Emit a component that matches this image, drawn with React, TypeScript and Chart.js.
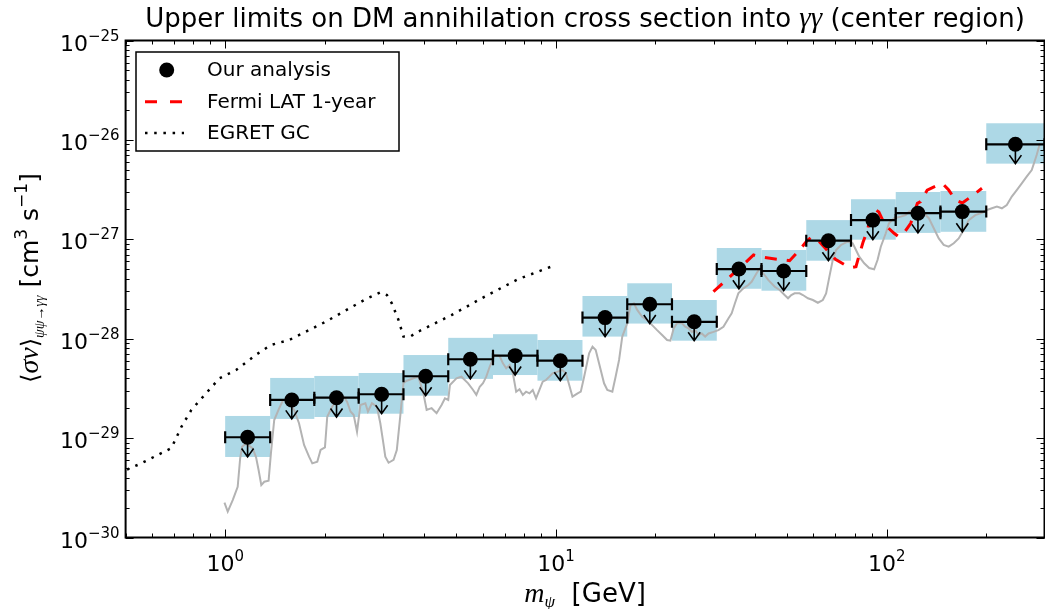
import React, { useEffect, useRef } from "react";
import { Chart, registerables } from "chart.js";

Chart.register(...registerables);

// ---------------- data ----------------
const binCenter = [1.169, 1.59, 2.171, 2.972, 4.038, 5.512, 7.528, 10.31, 14.08, 19.22, 26.18, 35.74, 48.82, 66.65, 90.82, 124.3, 169.3, 245.0];
const binLow = [1.0, 1.368, 1.86, 2.533, 3.46, 4.725, 6.452, 8.794, 12.03, 16.43, 22.43, 30.64, 41.83, 57.13, 78.01, 106.5, 145.4, 200];
const binHigh = [1.368, 1.86, 2.533, 3.46, 4.725, 6.452, 8.794, 12.03, 16.43, 22.43, 30.64, 41.83, 57.13, 78.01, 106.5, 145.4, 200, 300];
const limitValue = [1.02e-29, 2.42e-29, 2.55e-29, 2.76e-29, 4.19e-29, 6.21e-29, 6.75e-29, 6.01e-29, 1.63e-28, 2.22e-28, 1.48e-28, 5.02e-28, 4.8e-28, 9.68e-28, 1.56e-27, 1.83e-27, 1.9e-27, 9.03e-27];
const bandHigh = [1.67e-29, 4.03e-29, 4.22e-29, 4.52e-29, 6.85e-29, 1.02e-28, 1.11e-28, 9.7e-29, 2.69e-28, 3.61e-28, 2.45e-28, 8.17e-28, 7.8e-28, 1.56e-27, 2.53e-27, 2.99e-27, 3.06e-27, 1.47e-26];
const bandLow = [6.46e-30, 1.56e-29, 1.63e-29, 1.76e-29, 2.67e-29, 3.94e-29, 4.31e-29, 3.78e-29, 1.05e-28, 1.42e-28, 9.55e-29, 3.18e-28, 3.04e-28, 6.09e-28, 9.91e-28, 1.16e-27, 1.19e-27, 5.77e-27];

const fermiMass = [29.94, 35.67, 39.58, 42.72, 46.95, 50.87, 54.53, 57.41, 59.14, 61.94, 64.84, 69.98, 74.99, 78.01, 80.75, 82.61, 84.92, 87.56, 89.58, 92.29, 94.68, 98.9, 105.3, 108.0, 111.6, 118.2, 123.8, 126.6, 132.6, 143.1, 148.0, 154.0, 161.3, 169.3, 181.1, 194.1];
const fermiSigma = [2.97e-28, 5.03e-28, 6.95e-28, 6.56e-28, 6.29e-28, 6.09e-28, 7.8e-28, 9.68e-28, 1.05e-27, 9.84e-28, 8.31e-28, 6.29e-28, 5.51e-28, 5.2e-28, 5.3e-28, 6.95e-28, 9.46e-28, 1.24e-27, 1.83e-27, 2.0e-27, 1.88e-27, 1.39e-27, 1.15e-27, 1.08e-27, 1.1e-27, 1.45e-27, 2.3e-27, 2.39e-27, 3.13e-27, 3.52e-27, 3.6e-27, 3.13e-27, 2.49e-27, 2.32e-27, 2.73e-27, 3.26e-27];

const egretMass = [0.505, 0.5524, 0.6879, 0.7374, 0.7902, 0.9613, 1.079, 1.245, 1.375, 1.561, 2.012, 2.654, 2.944, 3.083, 3.19, 3.343, 3.46, 3.625, 3.838, 4.834, 6.092, 7.67, 9.66];
const egretSigma = [4.83e-30, 5.49e-30, 7.94e-30, 1.3e-29, 1.92e-29, 4.0e-29, 4.84e-29, 6.97e-29, 8.64e-29, 9.7e-29, 1.48e-28, 2.49e-28, 2.93e-28, 2.75e-28, 2.27e-28, 1.54e-28, 1.05e-28, 1.05e-28, 1.18e-28, 1.73e-28, 2.65e-28, 3.96e-28, 5.3e-28];

const grayMass = [
  0.995, 1.018, 1.054, 1.091, 1.11, 1.125, 1.152, 1.184, 1.211, 1.24,
  1.262, 1.286, 1.313, 1.353, 1.375, 1.407, 1.457, 1.497, 1.543, 1.616,
  1.672, 1.732, 1.793, 1.834, 1.899, 1.943, 2.003, 2.035, 2.106, 2.18,
  2.284, 2.336, 2.393, 2.447, 2.504, 2.563, 2.654, 2.702, 2.778, 2.876,
  2.945, 3.013, 3.049, 3.119, 3.229, 3.303, 3.382, 3.46, 3.54, 3.708,
  3.839, 3.974, 4.066, 4.209, 4.357, 4.511, 4.618, 4.725, 4.781, 5.003,
  5.18, 5.427, 5.618, 5.747, 5.884, 6.019, 6.158, 6.305, 6.527, 6.757,
  6.914, 7.074, 7.242, 7.41, 7.582, 7.761, 7.941, 8.124, 8.317, 8.509,
  8.708, 8.915, 9.12, 9.331, 9.552, 9.769, 10.12, 10.47, 10.72, 10.97,
  11.22, 11.63, 11.89, 12.17, 12.6, 12.9, 13.19, 13.5, 13.98, 14.3,
  14.81, 15.15, 15.52, 15.87, 16.43, 16.81, 17.21, 17.61, 18.23, 18.87,
  19.54, 20.22, 20.94, 21.68, 22.18, 22.7, 23.23, 24.05, 24.6, 25.18,
  25.76, 26.37, 27.0, 27.61, 28.26, 28.93, 29.95, 30.99, 32.09, 33.22,
  33.99, 34.77, 35.6, 36.86, 38.16, 39.05, 40.42, 41.35, 42.34, 43.83,
  45.88, 47.49, 49.14, 50.32, 51.47, 52.67, 54.52, 55.81, 57.79, 59.82,
  61.93, 64.11, 65.59, 67.11, 68.7, 70.29, 72.76, 76.22, 78.91, 80.75,
  82.6, 85.52, 88.53, 91.63, 93.82, 95.98, 99.37, 101.6, 105.3, 110.3,
  114.1, 116.8, 120.9, 125.1, 129.5, 134.1, 138.8, 143.7, 148.7, 154.0,
  159.5, 165.1, 170.9, 177.0, 185.3, 194.1, 200.9, 208.0, 215.4, 223.0,
  230.7, 238.9, 247.3, 256.1, 265.0, 274.5, 284.1, 290.6,
];
const graySigma = [
  2.24e-30, 1.82e-30, 2.38e-30, 3.24e-30, 6.27e-30, 8.18e-30, 8.73e-30, 8.34e-30, 7.89e-30, 6.41e-30,
  4.78e-30, 3.37e-30, 3.64e-30, 3.72e-30, 7.03e-30, 1.52e-29, 2.0e-29, 2.42e-29, 2.42e-29, 1.92e-29,
  1.41e-29, 8.53e-30, 6.5e-30, 5.57e-30, 5.79e-30, 7.59e-30, 8.07e-30, 1.64e-29, 2.07e-29, 2.42e-29,
  2.61e-29, 2.32e-29, 1.85e-29, 1.71e-29, 1.16e-29, 2.15e-29, 2.24e-29, 1.85e-29, 2.24e-29, 2.07e-29,
  1.41e-29, 8.53e-30, 6.5e-30, 5.65e-30, 6.03e-30, 7.59e-30, 1.64e-29, 3.58e-29, 3.78e-29, 4.0e-29,
  4.15e-29, 2.82e-29, 1.92e-29, 2.0e-29, 1.78e-29, 2.15e-29, 2.51e-29, 2.42e-29, 3.42e-29, 4.0e-29,
  4.15e-29, 3.56e-29, 3.05e-29, 2.72e-29, 3.29e-29, 3.56e-29, 4.15e-29, 5.22e-29, 6.85e-29, 6.7e-29,
  5.65e-29, 5.04e-29, 5.43e-29, 4.49e-29, 2.93e-29, 3.1e-29, 2.72e-29, 2.93e-29, 2.82e-29, 3.05e-29,
  2.51e-29, 3.05e-29, 3.69e-29, 3.84e-29, 4.15e-29, 4.49e-29, 4.66e-29, 4.84e-29, 4.49e-29, 3.42e-29,
  2.61e-29, 2.82e-29, 2.93e-29, 4.15e-29, 7.13e-29, 8.32e-29, 7.69e-29, 5.65e-29, 3.56e-29, 3.05e-29,
  2.93e-29, 4.15e-29, 6.11e-29, 1.05e-28, 1.43e-28, 2.18e-28, 2.27e-28, 1.95e-28, 1.66e-28, 1.54e-28,
  1.37e-28, 1.22e-28, 1.09e-28, 9.7e-29, 9.55e-29, 1.27e-28, 1.43e-28, 1.43e-28, 1.32e-28, 1.27e-28,
  1.17e-28, 1.22e-28, 1.09e-28, 1.13e-28, 1.05e-28, 1.13e-28, 1.17e-28, 1.22e-28, 1.32e-28, 1.6e-28,
  1.8e-28, 2.27e-28, 2.86e-28, 3.21e-28, 3.47e-28, 3.74e-28, 4.55e-28, 5.11e-28, 4.55e-28, 3.9e-28,
  3.33e-28, 3.09e-28, 2.75e-28, 2.55e-28, 2.75e-28, 2.86e-28, 2.86e-28, 2.75e-28, 2.55e-28, 2.45e-28,
  2.3e-28, 2.45e-28, 2.86e-28, 4.21e-28, 6.19e-28, 7.8e-28, 8.77e-28, 9.46e-28, 9.12e-28, 7.8e-28,
  6.68e-28, 5.74e-28, 5.14e-28, 4.99e-28, 6.19e-28, 8.43e-28, 1.15e-27, 1.45e-27, 1.63e-27, 1.69e-27,
  1.75e-27, 1.9e-27, 1.97e-27, 1.9e-27, 1.83e-27, 1.63e-27, 1.29e-27, 1.02e-27, 8.77e-28, 8.43e-28,
  9.12e-28, 1.02e-27, 1.24e-27, 1.56e-27, 1.75e-27, 1.85e-27, 1.97e-27, 2.05e-27, 2.13e-27, 2.05e-27,
  2.21e-27, 2.69e-27, 3.13e-27, 3.66e-27, 4.27e-27, 4.98e-27, 7.05e-27, 9.25e-27,
];

const xMajorTicks = [1, 10, 100];
const xTickExp = ["0", "1", "2"];
const yTickExp = [-30, -29, -28, -27, -26, -25];

const titleText = "Upper limits on DM annihilation cross section into ";
const titleMath = "γγ";
const titleTail = " (center region)";
const legendLabels = ["Our analysis", "Fermi LAT 1-year", "EGRET GC"];

// ---------------- styling ----------------
const SANS = '"DejaVu Sans", sans-serif';
const MATH = '"Liberation Serif", "DejaVu Serif", serif';
const BAND = "#add8e6";
const GRAY = "#b3b3b3";

type Part = { t: string; f: string; dy?: number };

function drawRich(ctx: CanvasRenderingContext2D, parts: Part[], x: number, y: number, align: string) {
  let w = 0;
  for (const p of parts) {
    ctx.font = p.f;
    w += ctx.measureText(p.t).width;
  }
  let cx = align === "center" ? x - w / 2 : align === "right" ? x - w : x;
  ctx.textAlign = "left";
  for (const p of parts) {
    ctx.font = p.f;
    ctx.fillText(p.t, cx, y + (p.dy || 0));
    cx += ctx.measureText(p.t).width;
  }
}

const decorPlugin = {
  id: "decor",
  beforeDatasetsDraw(chart: any) {
    const { ctx, chartArea: a, scales } = chart;
    const xs = scales.x, ys = scales.y;
    ctx.save();
    ctx.beginPath();
    ctx.rect(a.left, a.top, a.right - a.left, a.bottom - a.top);
    ctx.clip();
    ctx.fillStyle = BAND;
    for (let i = 0; i < binCenter.length; i++) {
      const x0 = xs.getPixelForValue(binLow[i]);
      const x1 = xs.getPixelForValue(binHigh[i]);
      const y0 = ys.getPixelForValue(bandHigh[i]);
      const y1 = ys.getPixelForValue(bandLow[i]);
      ctx.fillRect(x0, y0, x1 - x0, y1 - y0);
    }
    ctx.restore();
  },
  beforeDatasetDraw(chart: any, args: any) {
    if (args.index !== 0) return;
    const { ctx, chartArea: a, scales } = chart;
    const xs = scales.x, ys = scales.y;
    ctx.save();
    ctx.beginPath();
    ctx.rect(a.left, a.top, a.right - a.left, a.bottom - a.top);
    ctx.clip();
    ctx.strokeStyle = "#000";
    for (let i = 0; i < binCenter.length; i++) {
      const x0 = xs.getPixelForValue(binLow[i]);
      const x1 = xs.getPixelForValue(binHigh[i]);
      const xc = xs.getPixelForValue(binCenter[i]);
      const y = ys.getPixelForValue(limitValue[i]);
      const yt = ys.getPixelForValue(bandLow[i]);
      ctx.lineWidth = 2.2;
      ctx.beginPath();
      ctx.moveTo(x0, y);
      ctx.lineTo(x1, y);
      ctx.moveTo(x0, y - 6);
      ctx.lineTo(x0, y + 6);
      ctx.moveTo(x1, y - 6);
      ctx.lineTo(x1, y + 6);
      ctx.stroke();
      ctx.lineWidth = 1.6;
      ctx.beginPath();
      ctx.moveTo(xc, y);
      ctx.lineTo(xc, yt);
      ctx.moveTo(xc - 6, yt - 8.5);
      ctx.lineTo(xc, yt);
      ctx.lineTo(xc + 6, yt - 8.5);
      ctx.stroke();
    }
    ctx.restore();
  },
  afterDraw(chart: any) {
    const { ctx, chartArea: a, scales } = chart;
    const xs = scales.x, ys = scales.y;
    ctx.save();
    ctx.strokeStyle = "#000";
    ctx.fillStyle = "#000";
    // ticks
    ctx.lineWidth = 1;
    const xt: [number, number][] = [];
    for (let e = -1; e <= 2; e++) {
      for (let m = 1; m <= 9; m++) {
        const v = m * Math.pow(10, e);
        if (v < 0.5 || v > 300) continue;
        xt.push([v, m === 1 ? 8 : 4]);
      }
    }
    ctx.beginPath();
    for (const [v, len] of xt) {
      const px = Math.round(xs.getPixelForValue(v)) + 0.5;
      ctx.moveTo(px, a.bottom);
      ctx.lineTo(px, a.bottom - len);
      ctx.moveTo(px, a.top);
      ctx.lineTo(px, a.top + len);
    }
    for (let e = -30; e <= -25; e++) {
      for (let m = 1; m <= 9; m++) {
        if (e === -25 && m > 1) continue;
        const v = m * Math.pow(10, e);
        const len = m === 1 ? 8 : 4;
        const py = Math.round(ys.getPixelForValue(v)) + 0.5;
        ctx.moveTo(a.left, py);
        ctx.lineTo(a.left + len, py);
        ctx.moveTo(a.right, py);
        ctx.lineTo(a.right - len, py);
      }
    }
    ctx.stroke();
    // frame
    ctx.lineWidth = 2;
    ctx.strokeRect(a.left, a.top, a.right - a.left, a.bottom - a.top);

    // tick labels
    ctx.textBaseline = "alphabetic";
    for (let i = 0; i < yTickExp.length; i++) {
      const py = ys.getPixelForValue(Math.pow(10, yTickExp[i]));
      drawRich(
        ctx,
        [
          { t: "10", f: `22px ${SANS}` },
          { t: "\u2212" + String(-yTickExp[i]), f: `15px ${SANS}`, dy: -10 },
        ],
        a.left - 6,
        py + 10,
        "right"
      );
    }
    for (let i = 0; i < xMajorTicks.length; i++) {
      const px = xs.getPixelForValue(xMajorTicks[i]);
      drawRich(
        ctx,
        [
          { t: "10", f: `22px ${SANS}` },
          { t: xTickExp[i], f: `15px ${SANS}`, dy: -10 },
        ],
        px,
        571,
        "center"
      );
    }

    // title
    drawRich(
      ctx,
      [
        { t: titleText, f: `26px ${SANS}` },
        { t: titleMath, f: `italic 29px ${MATH}` },
        { t: titleTail, f: `26px ${SANS}` },
      ],
      (a.left + a.right) / 2,
      27,
      "center"
    );

    // x axis label
    drawRich(
      ctx,
      [
        { t: "m", f: `italic 28px ${MATH}` },
        { t: "ψ", f: `italic 17px ${MATH}`, dy: 5 },
        { t: "  [GeV]", f: `26px ${SANS}` },
      ],
      (a.left + a.right) / 2,
      602,
      "center"
    );

    // y axis label
    ctx.save();
    ctx.translate(38, 278);
    ctx.rotate(-Math.PI / 2);
    drawRich(
      ctx,
      [
        { t: "\u27E8", f: `24px ${SANS}` },
        { t: "σv", f: `italic 28px ${MATH}` },
        { t: "\u27E9", f: `24px ${SANS}` },
        { t: "ψψ→γγ", f: `italic 14px ${MATH}`, dy: 6 },
        { t: " [cm", f: `25px ${SANS}` },
        { t: "3", f: `17px ${SANS}`, dy: -11 },
        { t: " s", f: `25px ${SANS}` },
        { t: "\u22121", f: `17px ${SANS}`, dy: -11 },
        { t: "]", f: `25px ${SANS}` },
      ],
      0,
      0,
      "center"
    );
    ctx.restore();

    // legend
    const lx = 136, ly = 52, lw = 263, lh = 99;
    ctx.fillStyle = "#fff";
    ctx.fillRect(lx, ly, lw, lh);
    ctx.lineWidth = 1.5;
    ctx.strokeStyle = "#000";
    ctx.strokeRect(lx, ly, lw, lh);
    const rows = [70, 101.7, 133];
    ctx.fillStyle = "#000";
    ctx.beginPath();
    ctx.arc(166.7, rows[0], 7.5, 0, Math.PI * 2);
    ctx.fill();
    ctx.strokeStyle = "#ff0000";
    ctx.lineWidth = 3;
    ctx.setLineDash([12, 13]);
    ctx.beginPath();
    ctx.moveTo(145, rows[1]);
    ctx.lineTo(183.5, rows[1]);
    ctx.stroke();
    ctx.strokeStyle = "#000";
    ctx.lineWidth = 2.5;
    ctx.setLineDash([2.5, 6.7]);
    ctx.beginPath();
    ctx.moveTo(145, rows[2]);
    ctx.lineTo(184, rows[2]);
    ctx.stroke();
    ctx.setLineDash([]);
    ctx.textBaseline = "middle";
    ctx.textAlign = "left";
    ctx.font = `20px ${SANS}`;
    for (let i = 0; i < 3; i++) ctx.fillText(legendLabels[i], 207, rows[i] + 1);
    ctx.restore();
  },
};

export default function App() {
  const ref = useRef<HTMLCanvasElement | null>(null);
  useEffect(() => {
    if (!ref.current) return;
    const chart = new Chart(ref.current, {
      type: "scatter",
      data: {
        datasets: [
          {
            label: "Our analysis",
            data: binCenter.map((x, i) => ({ x, y: limitValue[i] })),
            pointRadius: 7.5,
            pointBackgroundColor: "#000",
            pointBorderWidth: 0,
            showLine: false,
            order: 0,
          },
          {
            label: "Fermi LAT 1-year",
            data: fermiMass.map((x, i) => ({ x, y: fermiSigma[i] })),
            showLine: true,
            borderColor: "#ff0000",
            borderWidth: 3,
            borderDash: [12, 10],
            pointRadius: 0,
            tension: 0,
            order: 1,
          },
          {
            label: "EGRET GC",
            data: egretMass.map((x, i) => ({ x, y: egretSigma[i] })),
            showLine: true,
            borderColor: "#000",
            borderWidth: 2.5,
            borderDash: [2.5, 6.5],
            pointRadius: 0,
            tension: 0,
            order: 2,
          },
          {
            label: "scan",
            data: grayMass.map((x, i) => ({ x, y: graySigma[i] })),
            showLine: true,
            borderColor: GRAY,
            borderWidth: 2,
            pointRadius: 0,
            tension: 0,
            order: 3,
          },
        ],
      } as any,
      options: {
        responsive: false,
        animation: false,
        devicePixelRatio: 1,
        layout: { padding: { left: 125.6, right: 2.4, top: 40.5, bottom: 71.5 } },
        scales: {
          x: { type: "logarithmic", min: 0.5, max: 300, display: false },
          y: { type: "logarithmic", min: 1e-30, max: 1e-25, display: false },
        },
        plugins: { legend: { display: false }, tooltip: { enabled: false }, title: { display: false } },
      } as any,
      plugins: [decorPlugin],
    });
    return () => chart.destroy();
  }, []);
  return (
    <div
      style={{
        position: "fixed",
        left: 0,
        top: 0,
        width: 1045,
        height: 609,
        overflow: "hidden",
        background: "#fff",
      }}
    >
      <canvas ref={ref} width={1052} height={609} style={{ display: "block" }} />
    </div>
  );
}
